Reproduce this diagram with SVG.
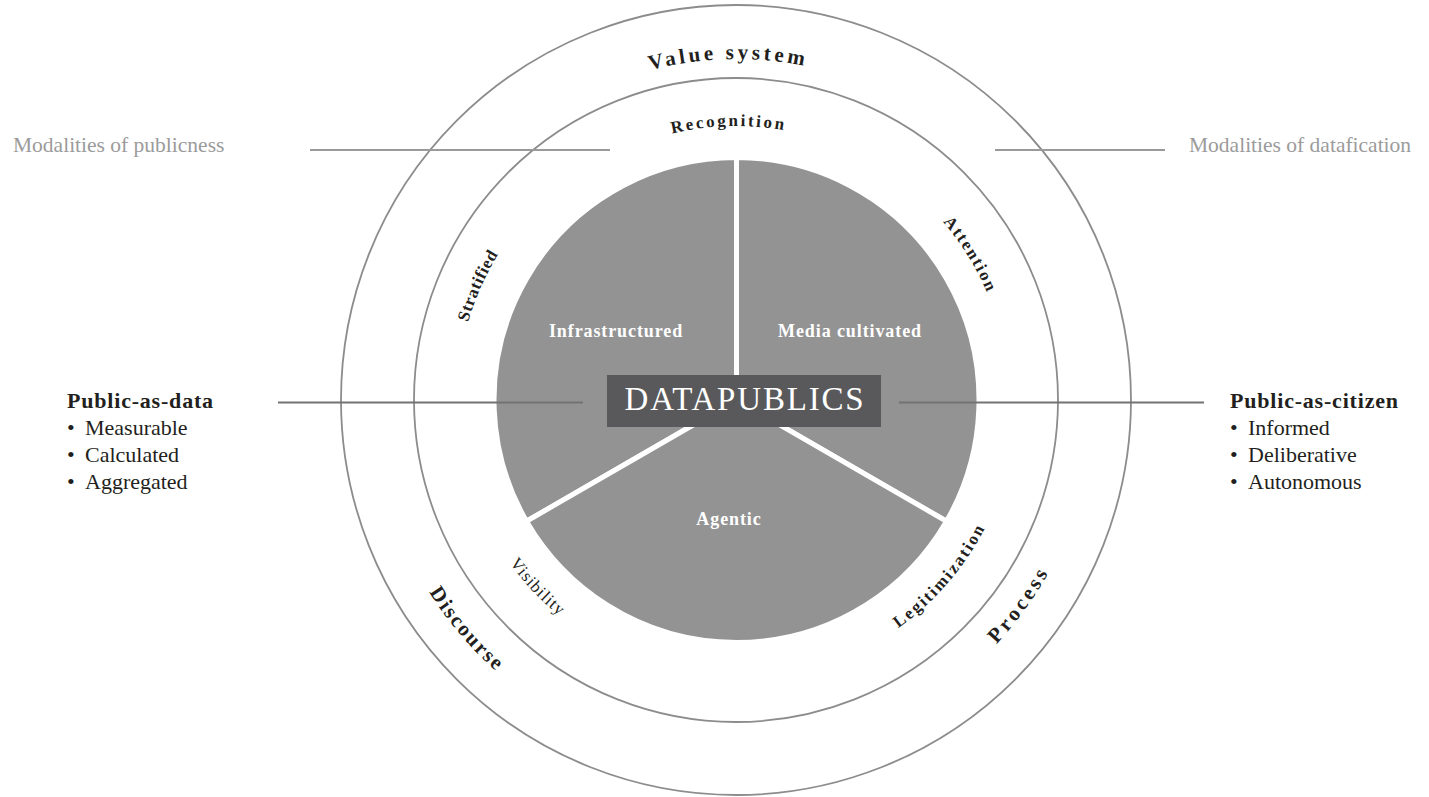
<svg xmlns="http://www.w3.org/2000/svg" width="1429" height="797" viewBox="0 0 1429 797">
  <style>
    .ring { fill: none; stroke: #8c8c8c; stroke-width: 1.8; }
    .sector { fill: #939393; stroke: #ffffff; stroke-width: 5; stroke-linejoin: miter; }
    .sector-label { font-family: "Liberation Serif", serif; font-weight: bold; font-size: 18px; fill: #ffffff; text-anchor: middle; letter-spacing: 0.9px; }
    .arc-bold { font-family: "Liberation Serif", serif; font-weight: bold; fill: #231f20; }
    .arc-reg { font-family: "Liberation Serif", serif; fill: #231f20; }
    .side { font-family: "Liberation Serif", serif; font-size: 22px; fill: #231f20; }
    .side-head { font-weight: bold; letter-spacing: 0.8px; }
    .modality { font-family: "Liberation Serif", serif; font-size: 21.5px; fill: #9b9b9b; }
    .link-top { stroke: #9a9a9a; stroke-width: 2; }
    .link-mid { stroke: #737373; stroke-width: 2; }
  </style>
  <defs>
    <!-- clockwise arcs: glyph tops face outward -->
    <path id="arc-value" d="M 436.9 236.3 A 341 341 0 0 1 1027.4 222.9"/>
    <path id="arc-recognition" d="M 495.2 269.2 A 274 274 0 0 1 969.6 256.8"/>
    <path id="arc-stratified" d="M 510.6 564.4 A 279 279 0 0 1 706.3 122.6"/>
    <path id="arc-attention" d="M 727.4 127.1 A 273 273 0 0 1 976.6 529.0"/>
    <!-- counter-clockwise arcs: glyph tops face inward -->
    <path id="arc-visibility" d="M 468.8 319.8 A 279 279 0 0 0 800.2 671.5"/>
    <path id="arc-legitimization" d="M 683.8 675.1 A 280 280 0 0 0 1000.3 307.7"/>
    <path id="arc-discourse" d="M 395.0 278.5 A 362 362 0 0 0 801.3 756.1"/>
    <path id="arc-process" d="M 699.6 755.1 A 357 357 0 0 0 1061.8 253.9"/>
  </defs>

  <rect width="1429" height="797" fill="#ffffff"/>

  <!-- concentric rings -->
  <g id="rings">
    <circle class="ring" cx="736" cy="400" r="395"/>
    <circle class="ring" cx="736" cy="400" r="322"/>
  </g>

  <!-- three sectors of the core -->
  <g id="sector-infrastructured">
    <path class="sector" d="M 736.5 400 L 526.5 521.25 A 242.5 242.5 0 0 1 736.5 157.5 Z"/>
    <text class="sector-label" x="616" y="337">Infrastructured</text>
  </g>
  <g id="sector-media-cultivated">
    <path class="sector" d="M 736.5 400 L 736.5 157.5 A 242.5 242.5 0 0 1 946.5 521.25 Z"/>
    <text class="sector-label" x="850" y="337">Media cultivated</text>
  </g>
  <g id="sector-agentic">
    <path class="sector" d="M 736.5 400 L 946.5 521.25 A 242.5 242.5 0 0 1 526.5 521.25 Z"/>
    <text class="sector-label" x="729" y="525">Agentic</text>
  </g>

  <!-- connecting rules -->
  <g id="connectors">
    <line class="link-top" x1="310" y1="150" x2="610" y2="150"/>
    <line class="link-top" x1="995" y1="150" x2="1165" y2="150"/>
    <line class="link-mid" x1="278" y1="402.5" x2="583" y2="402.5"/>
    <line class="link-mid" x1="899" y1="402.5" x2="1204" y2="402.5"/>
  </g>

  <!-- centre title -->
  <g id="datapublics">
    <rect x="607" y="375" width="274" height="52" fill="#59595b"/>
    <text x="745" y="410" font-family="Liberation Serif, serif" font-size="33" fill="#ffffff" text-anchor="middle" letter-spacing="1.8">DATAPUBLICS</text>
  </g>

  <!-- outer ring labels -->
  <g id="value-system">
    <text class="arc-bold" font-size="21" letter-spacing="3.5"><textPath href="#arc-value" startOffset="50%" text-anchor="middle">Value system</textPath></text>
  </g>
  <g id="discourse">
    <text class="arc-bold" font-size="21" letter-spacing="2"><textPath href="#arc-discourse" startOffset="50%" text-anchor="middle">Discourse</textPath></text>
  </g>
  <g id="process">
    <text class="arc-bold" font-size="21" letter-spacing="3.4"><textPath href="#arc-process" startOffset="50%" text-anchor="middle">Process</textPath></text>
  </g>

  <!-- middle ring labels -->
  <g id="recognition">
    <text class="arc-bold" font-size="17" letter-spacing="2.5"><textPath href="#arc-recognition" startOffset="50%" text-anchor="middle">Recognition</textPath></text>
  </g>
  <g id="stratified">
    <text class="arc-bold" font-size="17" letter-spacing="0.6"><textPath href="#arc-stratified" startOffset="50%" text-anchor="middle">Stratified</textPath></text>
  </g>
  <g id="attention">
    <text class="arc-bold" font-size="17" letter-spacing="1.8"><textPath href="#arc-attention" startOffset="50%" text-anchor="middle">Attention</textPath></text>
  </g>
  <g id="visibility">
    <text class="arc-reg" font-size="17" letter-spacing="1"><textPath href="#arc-visibility" startOffset="50%" text-anchor="middle">Visibility</textPath></text>
  </g>
  <g id="legitimization">
    <text class="arc-bold" font-size="17" letter-spacing="2.1"><textPath href="#arc-legitimization" startOffset="50%" text-anchor="middle">Legitimization</textPath></text>
  </g>

  <!-- side captions -->
  <g id="modalities-publicness">
    <text class="modality" x="13" y="152">Modalities of publicness</text>
  </g>
  <g id="modalities-datafication">
    <text class="modality" x="1189" y="152">Modalities of datafication</text>
  </g>

  <g id="public-as-data">
    <text class="side side-head" x="67" y="408">Public-as-data</text>
    <text class="side" y="435"><tspan x="67">•</tspan><tspan x="85">Measurable</tspan></text>
    <text class="side" y="462"><tspan x="67">•</tspan><tspan x="85">Calculated</tspan></text>
    <text class="side" y="489"><tspan x="67">•</tspan><tspan x="85">Aggregated</tspan></text>
  </g>
  <g id="public-as-citizen">
    <text class="side side-head" x="1230" y="408">Public-as-citizen</text>
    <text class="side" y="435"><tspan x="1230">•</tspan><tspan x="1248">Informed</tspan></text>
    <text class="side" y="462"><tspan x="1230">•</tspan><tspan x="1248">Deliberative</tspan></text>
    <text class="side" y="489"><tspan x="1230">•</tspan><tspan x="1248">Autonomous</tspan></text>
  </g>
</svg>
